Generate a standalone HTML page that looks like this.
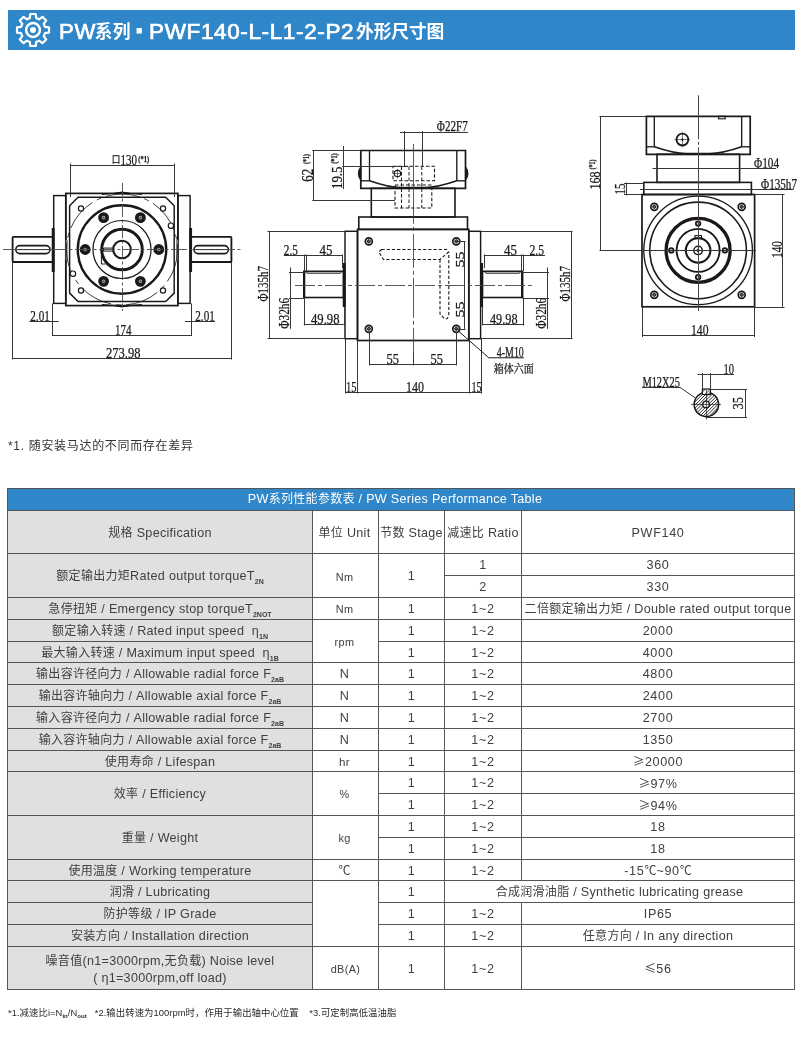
<!DOCTYPE html>
<html lang="zh-CN"><head><meta charset="utf-8"><title>PW系列 PWF140-L-L1-2-P2 外形尺寸图</title>
<style>
*{margin:0;padding:0;box-sizing:border-box}
html,body{width:800px;height:1050px;background:#fff;overflow:hidden}
body{font-family:"Liberation Sans","Noto Sans CJK SC",sans-serif;color:#3a3a3a}
#page{position:relative;width:800px;height:1050px;background:#fff;overflow:hidden}
.hdr{position:absolute;left:7.5px;top:9.6px;width:787.5px;height:40.6px;background:#2f86c8}
.hdr h1{position:absolute;left:0;top:0;width:100%;height:100%;font-weight:normal;font-size:21.4px;color:#fff}
.hdr h1 span.l{-webkit-text-stroke:0.7px #fff}
.hdr h1 span.d{font-size:30px;font-weight:bold;top:7.9px;-webkit-text-stroke:1px #fff}
.hdr h1 span.c{font-weight:bold}
.hdr h1 span{position:absolute;top:8.6px;line-height:26px;white-space:nowrap;transform-origin:0 50%;display:block}
.hdr h1 span.c{font-size:17.8px;top:9.3px}
svg.draw{position:absolute;left:0;top:0;width:800px;height:1050px;will-change:transform}
.tbl span,.note,.foot,.hdr h1{will-change:transform}
.note{position:absolute;left:7.6px;top:437.8px;font-size:12px;line-height:16px;color:#333;white-space:nowrap;letter-spacing:.68px}
.foot{position:absolute;left:7.5px;top:1006px;font-size:9.4px;line-height:14px;color:#2a2a2a;white-space:nowrap;letter-spacing:.05px}
.foot sub{font-size:6px;font-weight:bold;vertical-align:-2px;line-height:0}
.tbl{position:absolute;border-collapse:separate;border-spacing:0;table-layout:fixed;width:788px;border-top:1px solid #555;border-left:1px solid #555;font-size:12.6px;color:#404040}
.tbl th,.tbl td{padding:0;border-right:1px solid #555;border-bottom:1px solid #555;font-weight:normal;text-align:center;vertical-align:middle;white-space:nowrap;line-height:20.5px;letter-spacing:.28px;overflow:visible}
.tbl span{position:relative;display:block;margin:-3px 0}
.tbl i{font-style:normal;font-size:12px;letter-spacing:.3px}
.tbl b{font-weight:normal;font-family:"Noto Sans CJK SC",sans-serif;font-size:12px;letter-spacing:0}
.tbl sub{font-size:7px;font-weight:bold;vertical-align:-4px;line-height:0;letter-spacing:0}
.tbl .l{background:#e0e0e0}
.tbl .n{letter-spacing:.65px}
.tbl .u{font-size:10.9px;letter-spacing:.35px}
.tbl .u2{font-size:11.6px;letter-spacing:.35px}
.tbl .two{line-height:17px}
.tbl .t{background:#2f86c8;color:#fff}
</style></head>
<body><div id="page">
<div class="hdr"><svg width="40" height="40" viewBox="0 0 40 40" style="position:absolute;left:5.6px;top:0.7px" aria-hidden="true"><path d="M16.80 8.12L17.30 4.00 L22.70 4.00 L23.20 8.12A12.30 12.30 0 0 1 26.14 9.34L29.40 6.78 L33.22 10.60 L30.66 13.86A12.30 12.30 0 0 1 31.88 16.80L36.00 17.30 L36.00 22.70 L31.88 23.20A12.30 12.30 0 0 1 30.66 26.14L33.22 29.40 L29.40 33.22 L26.14 30.66A12.30 12.30 0 0 1 23.20 31.88L22.70 36.00 L17.30 36.00 L16.80 31.88A12.30 12.30 0 0 1 13.86 30.66L10.60 33.22 L6.78 29.40 L9.34 26.14A12.30 12.30 0 0 1 8.12 23.20L4.00 22.70 L4.00 17.30 L8.12 16.80A12.30 12.30 0 0 1 9.34 13.86L6.78 10.60 L10.60 6.78 L13.86 9.34A12.30 12.30 0 0 1 16.80 8.12 Z" fill="none" stroke="#fff" stroke-width="2.2" stroke-linejoin="round"/><circle cx="20" cy="20" r="6.9" fill="none" stroke="#fff" stroke-width="2.5"/><circle cx="20" cy="20" r="3" fill="#fff"/></svg><h1><span class="l" style="left:50.80px;transform:scaleX(1.035);letter-spacing:0.60px;">PW</span><span class="c" style="left:86.80px;letter-spacing:0.10px;">系列</span><span class="d" style="left:126.90px;">·</span><span class="l" style="left:141.10px;transform:scaleX(1.052);letter-spacing:0.60px;">PWF140-L-L1-2-P2</span><span class="c" style="left:348.00px;letter-spacing:-0.15px;">外形尺寸图</span></h1></div>
<svg class="draw" viewBox="0 0 800 1050" fill="none" stroke="#1c1818" stroke-linecap="butt" font-family="'Liberation Serif','Noto Serif CJK SC',serif">
<g class="lines">
<rect x="65.80" y="193.40" width="112.10" height="112.20" stroke-width="1.71"/>
<rect x="53.70" y="195.60" width="12.10" height="107.80" stroke-width="1.46"/>
<rect x="177.90" y="195.60" width="12.20" height="107.80" stroke-width="1.46"/>
<line x1="53.20" y1="228.00" x2="53.20" y2="272.00" stroke-width="2.93"/>
<line x1="190.60" y1="228.00" x2="190.60" y2="272.00" stroke-width="2.93"/>
<line x1="66.60" y1="240.00" x2="66.60" y2="260.00" stroke-width="1.95" stroke="#777"/>
<line x1="177.10" y1="240.00" x2="177.10" y2="260.00" stroke-width="1.95" stroke="#777"/>
<rect x="12.60" y="236.80" width="40.40" height="25.20" stroke-width="1.83" rx="0.80"/>
<rect x="191.00" y="236.80" width="40.40" height="25.20" stroke-width="1.83" rx="0.80"/>
<rect x="15.80" y="245.60" width="34.20" height="8.00" stroke-width="1.59" rx="4.00"/>
<rect x="194.00" y="245.60" width="34.40" height="8.00" stroke-width="1.59" rx="4.00"/>
<line x1="17.00" y1="249.60" x2="49.00" y2="249.60" stroke-width="0.98"/>
<line x1="195.00" y1="249.60" x2="227.40" y2="249.60" stroke-width="0.98"/>
<path d="M78.1 197.3L165.7 197.3L174.2 205.8L174.2 293.1L165.7 301.6L78.1 301.6L69.6 293.1L69.6 205.8Z" stroke-width="1.46"/>
<circle cx="122.00" cy="249.50" r="55.50" stroke-width="0.85" stroke-dasharray="34 5 5 5"/>
<circle cx="122.00" cy="249.50" r="44.20" stroke-width="2.44"/>
<circle cx="122.00" cy="249.50" r="29.00" stroke-width="1.22"/>
<circle cx="122.00" cy="249.50" r="20.30" stroke-width="2.93"/>
<circle cx="122.00" cy="249.50" r="8.80" stroke-width="2.07"/>
<path d="M113.4 248.1H103.5V251.1H113.6" stroke-width="1.00"/>
<path d="M101.4 255.5V264.0H105.5" stroke-width="1.00"/>
<circle cx="158.80" cy="249.50" r="3.60" stroke-width="3.66" fill="#bbb"/>
<circle cx="158.80" cy="249.50" r="0.90" stroke-width="0.61" fill="#555" stroke="#555"/>
<circle cx="140.40" cy="281.37" r="3.60" stroke-width="3.66" fill="#bbb"/>
<circle cx="140.40" cy="281.37" r="0.90" stroke-width="0.61" fill="#555" stroke="#555"/>
<circle cx="103.60" cy="281.37" r="3.60" stroke-width="3.66" fill="#bbb"/>
<circle cx="103.60" cy="281.37" r="0.90" stroke-width="0.61" fill="#555" stroke="#555"/>
<circle cx="85.20" cy="249.50" r="3.60" stroke-width="3.66" fill="#bbb"/>
<circle cx="85.20" cy="249.50" r="0.90" stroke-width="0.61" fill="#555" stroke="#555"/>
<circle cx="103.60" cy="217.63" r="3.60" stroke-width="3.66" fill="#bbb"/>
<circle cx="103.60" cy="217.63" r="0.90" stroke-width="0.61" fill="#555" stroke="#555"/>
<circle cx="140.40" cy="217.63" r="3.60" stroke-width="3.66" fill="#bbb"/>
<circle cx="140.40" cy="217.63" r="0.90" stroke-width="0.61" fill="#555" stroke="#555"/>
<circle cx="81.00" cy="208.50" r="2.60" stroke-width="1.22" fill="#fff"/>
<circle cx="81.00" cy="290.50" r="2.60" stroke-width="1.22" fill="#fff"/>
<circle cx="163.00" cy="208.50" r="2.60" stroke-width="1.22" fill="#fff"/>
<circle cx="163.00" cy="290.50" r="2.60" stroke-width="1.22" fill="#fff"/>
<rect x="168.30" y="223.00" width="5.20" height="5.30" stroke-width="1.22" rx="2.40" fill="#fff"/>
<rect x="70.30" y="271.00" width="5.30" height="5.40" stroke-width="1.22" rx="2.40" fill="#fff"/>
<path d="M114.0 193.4Q122.0 190.6 130.0 193.4Z" stroke-width="1.00" fill="#1c1818"/>
<path d="M114.0 305.6Q122.0 308.4 130.0 305.6Z" stroke-width="1.00" fill="#1c1818"/>
<path d="M102.0 194.4Q122.0 192.2 142.0 194.4" stroke-width="1.10"/>
<path d="M102.0 304.6Q122.0 306.8 142.0 304.6" stroke-width="1.10"/>
<line x1="3.00" y1="249.50" x2="241.00" y2="249.50" stroke-width="0.90" stroke-dasharray="16 2.5 3 2.5" stroke="#4a4646"/>
<line x1="122.50" y1="183.00" x2="122.50" y2="311.00" stroke-width="0.90" stroke-dasharray="13 2.5 3 2.5" stroke="#4a4646"/>
<line x1="70.00" y1="165.50" x2="174.40" y2="165.50" stroke-width="1.00" stroke="#3a3636"/>
<line x1="70.50" y1="163.50" x2="70.50" y2="197.00" stroke-width="1.00" stroke="#3a3636"/>
<line x1="174.50" y1="163.50" x2="174.50" y2="197.00" stroke-width="1.00" stroke="#3a3636"/>
<line x1="29.40" y1="321.50" x2="58.60" y2="321.50" stroke-width="1.00" stroke="#3a3636"/>
<line x1="184.80" y1="321.50" x2="215.00" y2="321.50" stroke-width="1.00" stroke="#3a3636"/>
<line x1="52.50" y1="303.50" x2="52.50" y2="336.00" stroke-width="1.00" stroke="#3a3636"/>
<line x1="191.50" y1="303.50" x2="191.50" y2="336.00" stroke-width="1.00" stroke="#3a3636"/>
<line x1="52.50" y1="335.50" x2="191.40" y2="335.50" stroke-width="1.00" stroke="#3a3636"/>
<line x1="12.50" y1="262.00" x2="12.50" y2="359.50" stroke-width="1.00" stroke="#3a3636"/>
<line x1="231.50" y1="262.00" x2="231.50" y2="359.50" stroke-width="1.00" stroke="#3a3636"/>
<line x1="12.60" y1="358.50" x2="231.50" y2="358.50" stroke-width="1.00" stroke="#3a3636"/>
<rect x="357.50" y="229.40" width="111.30" height="111.10" stroke-width="1.71"/>
<rect x="345.00" y="231.30" width="12.50" height="107.40" stroke-width="1.46"/>
<rect x="468.80" y="231.30" width="11.80" height="107.40" stroke-width="1.46"/>
<rect x="358.80" y="217.00" width="108.70" height="12.40" stroke-width="1.59"/>
<rect x="371.30" y="188.30" width="83.70" height="28.70" stroke-width="1.59"/>
<path d="M360.8 150.5H465.5V188.3H360.8Z" stroke-width="1.71"/>
<line x1="369.50" y1="150.50" x2="369.50" y2="181.00" stroke-width="1.34"/>
<line x1="456.80" y1="150.50" x2="456.80" y2="181.00" stroke-width="1.34"/>
<line x1="360.80" y1="180.80" x2="369.50" y2="180.80" stroke-width="1.34"/>
<line x1="456.80" y1="180.80" x2="465.50" y2="180.80" stroke-width="1.34"/>
<path d="M369.5 180.8C381 184.8 392 187.6 401 187.6H425C434 187.6 445 184.8 456.8 180.8" stroke-width="1.59"/>
<path d="M360.8 166.5Q355.8 173.5 360.8 180.5Z" stroke-width="1.00" fill="#1c1818"/>
<path d="M465.5 166.5Q470.5 173.5 465.5 180.5Z" stroke-width="1.00" fill="#1c1818"/>
<rect x="303.80" y="271.30" width="39.70" height="26.20" stroke-width="1.59"/>
<rect x="482.50" y="271.30" width="40.00" height="26.20" stroke-width="1.59"/>
<path d="M305.5 271.3L306.8 273.2H340.5L341.8 271.3" stroke-width="0.98"/>
<path d="M484.5 271.3L485.8 273.2H519.5L520.8 271.3" stroke-width="0.98"/>
<line x1="304.20" y1="271.30" x2="304.20" y2="297.50" stroke-width="2.20"/>
<line x1="522.10" y1="271.30" x2="522.10" y2="297.50" stroke-width="2.20"/>
<line x1="344.20" y1="263.00" x2="344.20" y2="307.00" stroke-width="2.93"/>
<line x1="481.60" y1="263.00" x2="481.60" y2="307.00" stroke-width="2.93"/>
<circle cx="368.80" cy="241.30" r="3.50" stroke-width="1.71" fill="#fff"/>
<circle cx="368.80" cy="241.30" r="1.50" stroke-width="0.98" fill="#bbb"/>
<path d="M366.6 241.3h4.4M368.8 239.1v4.4" stroke-width="0.61"/>
<circle cx="368.80" cy="328.80" r="3.50" stroke-width="1.71" fill="#fff"/>
<circle cx="368.80" cy="328.80" r="1.50" stroke-width="0.98" fill="#bbb"/>
<path d="M366.6 328.8h4.4M368.8 326.6v4.4" stroke-width="0.61"/>
<circle cx="456.30" cy="241.30" r="3.50" stroke-width="1.71" fill="#fff"/>
<circle cx="456.30" cy="241.30" r="1.50" stroke-width="0.98" fill="#bbb"/>
<path d="M454.1 241.3h4.4M456.3 239.1v4.4" stroke-width="0.61"/>
<circle cx="456.30" cy="328.80" r="3.50" stroke-width="1.71" fill="#fff"/>
<circle cx="456.30" cy="328.80" r="1.50" stroke-width="0.98" fill="#bbb"/>
<path d="M454.1 328.8h4.4M456.3 326.6v4.4" stroke-width="0.61"/>
<rect x="393.00" y="166.30" width="41.50" height="14.50" stroke-width="1.10" stroke-dasharray="3.5 2"/>
<rect x="395.00" y="185.00" width="36.80" height="23.00" stroke-width="1.10" stroke-dasharray="3.5 2"/>
<path d="M401.5 166.5V208 M409 166.5V208 M421.8 166.5V208" stroke-width="0.98" stroke-dasharray="3.5 2"/>
<circle cx="397.50" cy="173.60" r="3.20" stroke-width="1.10"/>
<path d="M393 173.6h9M397.5 169v9.4" stroke-width="0.61"/>
<path d="M381.5 249.5H446.5L448.5 252L440 259.5H383.5L378.8 252Z" stroke-width="1.10" stroke-dasharray="3.2 2"/>
<path d="M440 259.5V314L444.5 318.8H447L448.8 316V252" stroke-width="1.10" stroke-dasharray="3.2 2"/>
<line x1="413.50" y1="143.80" x2="413.50" y2="352.00" stroke-width="0.90" stroke-dasharray="80 3 4 3 34 3 4 3 40 3 4 3" stroke="#4a4646"/>
<line x1="295.00" y1="285.50" x2="532.00" y2="285.50" stroke-width="0.90" stroke-dasharray="20 3 4 3" stroke="#4a4646"/>
<line x1="400.00" y1="132.50" x2="468.00" y2="132.50" stroke-width="1.00" stroke="#3a3636"/>
<line x1="404.50" y1="131.00" x2="404.50" y2="166.00" stroke-width="1.00" stroke="#3a3636"/>
<line x1="422.50" y1="131.00" x2="422.50" y2="166.00" stroke-width="1.00" stroke="#3a3636"/>
<line x1="313.50" y1="150.50" x2="313.50" y2="200.00" stroke-width="1.00" stroke="#3a3636"/>
<line x1="312.30" y1="150.50" x2="360.80" y2="150.50" stroke-width="1.00" stroke="#3a3636"/>
<line x1="312.30" y1="200.50" x2="395.00" y2="200.50" stroke-width="1.00" stroke="#3a3636"/>
<line x1="343.50" y1="146.00" x2="343.50" y2="189.00" stroke-width="1.00" stroke="#3a3636"/>
<line x1="342.00" y1="166.50" x2="408.00" y2="166.50" stroke-width="1.00" stroke="#3a3636"/>
<line x1="267.50" y1="231.50" x2="345.00" y2="231.50" stroke-width="1.00" stroke="#3a3636"/>
<line x1="267.50" y1="338.50" x2="345.00" y2="338.50" stroke-width="1.00" stroke="#3a3636"/>
<line x1="269.50" y1="231.30" x2="269.50" y2="338.70" stroke-width="1.00" stroke="#3a3636"/>
<line x1="480.60" y1="231.50" x2="572.50" y2="231.50" stroke-width="1.00" stroke="#3a3636"/>
<line x1="480.60" y1="338.50" x2="572.50" y2="338.50" stroke-width="1.00" stroke="#3a3636"/>
<line x1="571.50" y1="231.30" x2="571.50" y2="338.70" stroke-width="1.00" stroke="#3a3636"/>
<line x1="283.80" y1="255.50" x2="342.00" y2="255.50" stroke-width="1.00" stroke="#3a3636"/>
<line x1="306.50" y1="254.50" x2="306.50" y2="271.00" stroke-width="1.00" stroke="#3a3636"/>
<line x1="304.50" y1="254.50" x2="304.50" y2="271.00" stroke-width="1.00" stroke="#3a3636"/>
<line x1="342.50" y1="254.50" x2="342.50" y2="268.00" stroke-width="1.00" stroke="#3a3636"/>
<line x1="483.80" y1="255.50" x2="545.00" y2="255.50" stroke-width="1.00" stroke="#3a3636"/>
<line x1="484.50" y1="254.50" x2="484.50" y2="268.00" stroke-width="1.00" stroke="#3a3636"/>
<line x1="521.50" y1="254.50" x2="521.50" y2="271.00" stroke-width="1.00" stroke="#3a3636"/>
<line x1="523.50" y1="254.50" x2="523.50" y2="271.00" stroke-width="1.00" stroke="#3a3636"/>
<line x1="290.50" y1="267.50" x2="290.50" y2="328.80" stroke-width="1.00" stroke="#3a3636"/>
<line x1="289.00" y1="272.50" x2="303.80" y2="272.50" stroke-width="1.00" stroke="#3a3636"/>
<line x1="289.00" y1="298.50" x2="303.80" y2="298.50" stroke-width="1.00" stroke="#3a3636"/>
<line x1="547.50" y1="267.50" x2="547.50" y2="328.80" stroke-width="1.00" stroke="#3a3636"/>
<line x1="522.50" y1="272.50" x2="549.00" y2="272.50" stroke-width="1.00" stroke="#3a3636"/>
<line x1="522.50" y1="298.50" x2="549.00" y2="298.50" stroke-width="1.00" stroke="#3a3636"/>
<line x1="303.80" y1="324.50" x2="343.80" y2="324.50" stroke-width="1.00" stroke="#3a3636"/>
<line x1="304.50" y1="297.50" x2="304.50" y2="325.50" stroke-width="1.00" stroke="#3a3636"/>
<line x1="344.50" y1="307.00" x2="344.50" y2="325.50" stroke-width="1.00" stroke="#3a3636"/>
<line x1="482.50" y1="324.50" x2="523.00" y2="324.50" stroke-width="1.00" stroke="#3a3636"/>
<line x1="482.50" y1="307.00" x2="482.50" y2="325.50" stroke-width="1.00" stroke="#3a3636"/>
<line x1="523.50" y1="297.50" x2="523.50" y2="325.50" stroke-width="1.00" stroke="#3a3636"/>
<line x1="464.50" y1="241.30" x2="464.50" y2="328.80" stroke-width="1.00" stroke="#3a3636"/>
<line x1="456.30" y1="241.50" x2="465.50" y2="241.50" stroke-width="1.00" stroke="#3a3636"/>
<line x1="456.30" y1="329.50" x2="465.50" y2="329.50" stroke-width="1.00" stroke="#3a3636"/>
<line x1="369.30" y1="364.50" x2="456.30" y2="364.50" stroke-width="1.00" stroke="#3a3636"/>
<line x1="369.50" y1="332.00" x2="369.50" y2="365.50" stroke-width="1.00" stroke="#3a3636"/>
<line x1="456.50" y1="332.00" x2="456.50" y2="365.50" stroke-width="1.00" stroke="#3a3636"/>
<line x1="413.50" y1="352.00" x2="413.50" y2="365.50" stroke-width="1.00" stroke="#3a3636"/>
<line x1="345.00" y1="392.50" x2="481.30" y2="392.50" stroke-width="1.00" stroke="#3a3636"/>
<line x1="345.50" y1="338.70" x2="345.50" y2="393.50" stroke-width="1.00" stroke="#3a3636"/>
<line x1="357.50" y1="340.50" x2="357.50" y2="393.50" stroke-width="1.00" stroke="#3a3636"/>
<line x1="469.50" y1="340.50" x2="469.50" y2="393.50" stroke-width="1.00" stroke="#3a3636"/>
<line x1="481.50" y1="338.70" x2="481.50" y2="393.50" stroke-width="1.00" stroke="#3a3636"/>
<path d="M457.8 330.5L488.8 357.8H524" stroke-width="1.00"/>
<path d="M646.4 116.3H750.2V154.3H646.4Z" stroke-width="1.71"/>
<line x1="654.30" y1="116.30" x2="654.30" y2="147.00" stroke-width="1.34"/>
<line x1="741.70" y1="116.30" x2="741.70" y2="147.00" stroke-width="1.34"/>
<line x1="646.40" y1="146.80" x2="654.30" y2="146.80" stroke-width="1.34"/>
<line x1="741.70" y1="146.80" x2="750.20" y2="146.80" stroke-width="1.34"/>
<path d="M654.3 146.8C666 150.8 677 153.6 686 153.6H710C719 153.6 730 150.8 741.7 146.8" stroke-width="1.59"/>
<rect x="718.60" y="116.30" width="6.60" height="2.50" stroke-width="1.10"/>
<circle cx="682.40" cy="139.60" r="5.90" stroke-width="1.83"/>
<path d="M674.6 139.6h15.6M682.4 131.8v15.6" stroke-width="0.61"/>
<path d="M680.6 139.6h3.6M682.4 137.8v3.6" stroke-width="0.85"/>
<rect x="657.00" y="154.30" width="82.60" height="28.10" stroke-width="1.59"/>
<rect x="643.80" y="182.40" width="107.60" height="12.10" stroke-width="1.59"/>
<rect x="642.00" y="194.50" width="112.60" height="112.30" stroke-width="1.71"/>
<circle cx="698.10" cy="250.40" r="54.30" stroke-width="1.34"/>
<circle cx="698.10" cy="250.40" r="48.30" stroke-width="1.59"/>
<circle cx="698.10" cy="250.40" r="32.00" stroke-width="3.29"/>
<circle cx="698.10" cy="250.40" r="21.50" stroke-width="1.83"/>
<circle cx="698.10" cy="250.40" r="12.30" stroke-width="2.07"/>
<circle cx="698.10" cy="250.40" r="4.20" stroke-width="1.46"/>
<circle cx="698.10" cy="250.40" r="1.30" stroke-width="0.98"/>
<rect x="695.00" y="235.60" width="6.50" height="2.80" stroke-width="1.10"/>
<circle cx="724.90" cy="250.40" r="2.30" stroke-width="1.71" fill="#ccc"/>
<circle cx="671.30" cy="250.40" r="2.30" stroke-width="1.71" fill="#ccc"/>
<circle cx="698.10" cy="277.20" r="2.30" stroke-width="1.71" fill="#ccc"/>
<circle cx="698.10" cy="223.60" r="2.30" stroke-width="1.71" fill="#ccc"/>
<circle cx="654.30" cy="206.80" r="3.50" stroke-width="1.71" fill="#fff"/>
<circle cx="654.30" cy="206.80" r="1.50" stroke-width="0.98" fill="#bbb"/>
<path d="M652.1 206.8h4.4M654.3 204.6v4.4" stroke-width="0.61"/>
<circle cx="654.30" cy="294.80" r="3.50" stroke-width="1.71" fill="#fff"/>
<circle cx="654.30" cy="294.80" r="1.50" stroke-width="0.98" fill="#bbb"/>
<path d="M652.1 294.8h4.4M654.3 292.6v4.4" stroke-width="0.61"/>
<circle cx="741.70" cy="206.80" r="3.50" stroke-width="1.71" fill="#fff"/>
<circle cx="741.70" cy="206.80" r="1.50" stroke-width="0.98" fill="#bbb"/>
<path d="M739.5 206.8h4.4M741.7 204.6v4.4" stroke-width="0.61"/>
<circle cx="741.70" cy="294.80" r="3.50" stroke-width="1.71" fill="#fff"/>
<circle cx="741.70" cy="294.80" r="1.50" stroke-width="0.98" fill="#bbb"/>
<path d="M739.5 294.8h4.4M741.7 292.6v4.4" stroke-width="0.61"/>
<line x1="698.50" y1="95.30" x2="698.50" y2="311.00" stroke-width="1.00" stroke-dasharray="44 2.5 3 2.5 200 0" stroke="#4a4646"/>
<line x1="600.50" y1="116.30" x2="600.50" y2="250.40" stroke-width="1.00" stroke="#3a3636"/>
<line x1="599.50" y1="116.50" x2="646.00" y2="116.50" stroke-width="1.00" stroke="#3a3636"/>
<line x1="599.50" y1="250.50" x2="756.00" y2="250.50" stroke-width="1.00" stroke="#3a3636"/>
<line x1="626.50" y1="182.40" x2="626.50" y2="195.50" stroke-width="1.00" stroke="#3a3636"/>
<line x1="624.00" y1="183.50" x2="644.00" y2="183.50" stroke-width="1.00" stroke="#3a3636"/>
<line x1="624.00" y1="194.50" x2="642.00" y2="194.50" stroke-width="1.00" stroke="#3a3636"/>
<line x1="652.50" y1="168.50" x2="776.00" y2="168.50" stroke-width="1.00" stroke="#3a3636"/>
<line x1="640.00" y1="189.50" x2="793.60" y2="189.50" stroke-width="1.00" stroke="#3a3636"/>
<line x1="782.50" y1="194.50" x2="782.50" y2="306.80" stroke-width="1.00" stroke="#3a3636"/>
<line x1="754.60" y1="194.50" x2="784.50" y2="194.50" stroke-width="1.00" stroke="#3a3636"/>
<line x1="754.60" y1="307.50" x2="784.50" y2="307.50" stroke-width="1.00" stroke="#3a3636"/>
<line x1="642.50" y1="306.80" x2="642.50" y2="337.00" stroke-width="1.00" stroke="#3a3636"/>
<line x1="754.50" y1="306.80" x2="754.50" y2="337.00" stroke-width="1.00" stroke="#3a3636"/>
<line x1="642.00" y1="335.50" x2="754.60" y2="335.50" stroke-width="1.00" stroke="#3a3636"/>
<clipPath id="sc"><circle cx="706.4" cy="404.4" r="12.2"/></clipPath>
<path d="M678.4 418.4l30 -30M681.6 418.4l30 -30M684.8 418.4l30 -30M688.0 418.4l30 -30M691.2 418.4l30 -30M694.4 418.4l30 -30M697.6 418.4l30 -30M700.8 418.4l30 -30M704.0 418.4l30 -30M707.2 418.4l30 -30M710.4 418.4l30 -30M713.6 418.4l30 -30M716.8 418.4l30 -30M720.0 418.4l30 -30" stroke-width="0.9" clip-path="url(#sc)"/>
<circle cx="706.40" cy="404.40" r="12.20" stroke-width="1.59"/>
<rect x="702.40" y="389.00" width="8.00" height="5.50" stroke-width="1.22" fill="#fff"/>
<path d="M702.4 392l3-3M705 394.5l5-5M708 394.5l2.4-2.4" stroke-width="0.85"/>
<circle cx="706.10" cy="404.40" r="3.30" stroke-width="1.34" fill="#fff"/>
<line x1="691.00" y1="404.40" x2="721.00" y2="404.40" stroke-width="0.73"/>
<line x1="706.40" y1="390.00" x2="706.40" y2="419.50" stroke-width="0.73"/>
<line x1="697.60" y1="374.50" x2="734.00" y2="374.50" stroke-width="1.00" stroke="#3a3636"/>
<line x1="702.50" y1="373.00" x2="702.50" y2="389.00" stroke-width="1.00" stroke="#3a3636"/>
<line x1="710.50" y1="373.00" x2="710.50" y2="389.00" stroke-width="1.00" stroke="#3a3636"/>
<line x1="745.50" y1="389.00" x2="745.50" y2="417.00" stroke-width="1.00" stroke="#3a3636"/>
<line x1="710.40" y1="389.50" x2="747.00" y2="389.50" stroke-width="1.00" stroke="#3a3636"/>
<line x1="706.00" y1="417.50" x2="747.00" y2="417.50" stroke-width="1.00" stroke="#3a3636"/>
<line x1="642.00" y1="387.50" x2="680.00" y2="387.50" stroke-width="1.00" stroke="#3a3636"/>
<line x1="680.00" y1="387.40" x2="695.50" y2="398.00" stroke-width="1.00" stroke="#3a3636"/>
</g>
<g class="dims" fill="#1c1818" stroke="#1c1818" stroke-width="0.25">
<text x="111.80" y="163.20" font-size="10.0" textLength="8.60" lengthAdjust="spacingAndGlyphs" font-family='Noto Sans CJK SC'>口</text>
<text x="120.60" y="164.80" font-size="14.6" textLength="16.50" lengthAdjust="spacingAndGlyphs">130</text>
<text x="138.30" y="162.30" font-size="8.5" textLength="10.80" lengthAdjust="spacingAndGlyphs" font-weight="bold">(*1)</text>
<text x="30.30" y="321.00" font-size="14.6" textLength="19.50" lengthAdjust="spacingAndGlyphs">2.01</text>
<text x="195.30" y="321.00" font-size="14.6" textLength="19.50" lengthAdjust="spacingAndGlyphs">2.01</text>
<text x="115.00" y="334.60" font-size="14.6" textLength="16.50" lengthAdjust="spacingAndGlyphs">174</text>
<text x="106.00" y="358.00" font-size="14.6" textLength="34.50" lengthAdjust="spacingAndGlyphs">273.98</text>
<text x="436.80" y="131.40" font-size="14.6" textLength="31.00" lengthAdjust="spacingAndGlyphs">Φ22F7</text>
<text x="312.60" y="181.80" font-size="16.0" textLength="13.00" lengthAdjust="spacingAndGlyphs" transform="rotate(-90 312.60 181.80)">62</text>
<text x="308.50" y="164.00" font-size="8.5" textLength="10.00" lengthAdjust="spacingAndGlyphs" transform="rotate(-90 308.50 164.00)" font-weight="bold">(*1)</text>
<text x="342.00" y="189.00" font-size="14.6" textLength="22.50" lengthAdjust="spacingAndGlyphs" transform="rotate(-90 342.00 189.00)">19.5</text>
<text x="337.50" y="163.80" font-size="8.5" textLength="10.50" lengthAdjust="spacingAndGlyphs" transform="rotate(-90 337.50 163.80)" font-weight="bold">(*1)</text>
<text x="268.00" y="301.50" font-size="14.6" textLength="35.50" lengthAdjust="spacingAndGlyphs" transform="rotate(-90 268.00 301.50)">Φ135h7</text>
<text x="570.00" y="301.50" font-size="14.6" textLength="35.50" lengthAdjust="spacingAndGlyphs" transform="rotate(-90 570.00 301.50)">Φ135h7</text>
<text x="283.80" y="255.00" font-size="14.6" textLength="14.00" lengthAdjust="spacingAndGlyphs">2.5</text>
<text x="319.50" y="255.00" font-size="14.6" textLength="13.00" lengthAdjust="spacingAndGlyphs">45</text>
<text x="504.00" y="255.00" font-size="14.6" textLength="13.00" lengthAdjust="spacingAndGlyphs">45</text>
<text x="529.50" y="255.00" font-size="14.6" textLength="14.50" lengthAdjust="spacingAndGlyphs">2.5</text>
<text x="289.30" y="328.80" font-size="14.6" textLength="31.00" lengthAdjust="spacingAndGlyphs" transform="rotate(-90 289.30 328.80)">Φ32h6</text>
<text x="546.30" y="328.80" font-size="14.6" textLength="31.00" lengthAdjust="spacingAndGlyphs" transform="rotate(-90 546.30 328.80)">Φ32h6</text>
<text x="311.00" y="324.10" font-size="14.6" textLength="28.50" lengthAdjust="spacingAndGlyphs">49.98</text>
<text x="490.00" y="324.10" font-size="14.6" textLength="27.50" lengthAdjust="spacingAndGlyphs">49.98</text>
<text x="464.00" y="267.60" font-size="13.4" textLength="16.00" lengthAdjust="spacingAndGlyphs" transform="rotate(-90 464.00 267.60)">55</text>
<text x="464.00" y="317.60" font-size="13.4" textLength="16.00" lengthAdjust="spacingAndGlyphs" transform="rotate(-90 464.00 317.60)">55</text>
<text x="386.50" y="364.10" font-size="14.6" textLength="12.50" lengthAdjust="spacingAndGlyphs">55</text>
<text x="430.50" y="364.10" font-size="14.6" textLength="12.50" lengthAdjust="spacingAndGlyphs">55</text>
<text x="346.00" y="392.10" font-size="14.6" textLength="10.50" lengthAdjust="spacingAndGlyphs">15</text>
<text x="406.00" y="392.10" font-size="14.6" textLength="18.00" lengthAdjust="spacingAndGlyphs">140</text>
<text x="471.50" y="392.10" font-size="14.6" textLength="10.00" lengthAdjust="spacingAndGlyphs">15</text>
<text x="496.80" y="357.40" font-size="14.6" textLength="27.00" lengthAdjust="spacingAndGlyphs">4-M10</text>
<text x="493.80" y="373.00" font-size="11.0" textLength="40.00" lengthAdjust="spacingAndGlyphs">箱体六面</text>
<text x="599.80" y="189.50" font-size="14.6" textLength="18.00" lengthAdjust="spacingAndGlyphs" transform="rotate(-90 599.80 189.50)">168</text>
<text x="594.50" y="169.50" font-size="8.5" textLength="10.00" lengthAdjust="spacingAndGlyphs" transform="rotate(-90 594.50 169.50)" font-weight="bold">(*1)</text>
<text x="625.40" y="194.50" font-size="14.6" textLength="11.00" lengthAdjust="spacingAndGlyphs" transform="rotate(-90 625.40 194.50)">15</text>
<text x="754.00" y="167.80" font-size="14.6" textLength="25.00" lengthAdjust="spacingAndGlyphs">Φ104</text>
<text x="761.00" y="188.80" font-size="14.6" textLength="36.00" lengthAdjust="spacingAndGlyphs">Φ135h7</text>
<text x="781.80" y="258.00" font-size="14.6" textLength="17.00" lengthAdjust="spacingAndGlyphs" transform="rotate(-90 781.80 258.00)">140</text>
<text x="691.00" y="334.60" font-size="14.6" textLength="17.50" lengthAdjust="spacingAndGlyphs">140</text>
<text x="723.40" y="373.60" font-size="14.6" textLength="10.50" lengthAdjust="spacingAndGlyphs">10</text>
<text x="742.60" y="409.50" font-size="14.6" textLength="12.50" lengthAdjust="spacingAndGlyphs" transform="rotate(-90 742.60 409.50)">35</text>
<text x="642.40" y="386.80" font-size="14.6" textLength="37.50" lengthAdjust="spacingAndGlyphs">M12X25</text>
</g>
</svg>
<div class="note">*1. 随安装马达的不同而存在差异</div>
<table class="tbl" style="left:7px;top:488px">
<colgroup><col style="width:305px"><col style="width:66px"><col style="width:66px"><col style="width:77px"><col style="width:273px"></colgroup>
<thead>
<tr style="height:22px"><th class="t" colspan="5"><span style="top:0.2px;left:-6.5px;">PW<i>系列性能参数表</i> / PW Series Performance Table</span></th></tr>
<tr style="height:43px"><th class="l" scope="col"><span style="top:1.4px;"><i>规格</i> Specification</span></th><th scope="col"><span style="top:1.4px;left:-1.0px;"><i>单位</i> Unit</span></th><th scope="col"><span style="top:1.4px;"><i>节数</i> Stage</span></th><th scope="col"><span style="top:1.4px;"><i>减速比</i> Ratio</span></th><th class="n" scope="col"><span style="top:1.4px;">PWF140</span></th></tr>
</thead>
<tbody>
<tr style="height:22px"><th class="l" rowspan="2" scope="row"><span style="top:1.0px;"><i>额定输出力矩</i>Rated output torqueT<sub>2N</sub></span></th><td class="u" rowspan="2"><span style="top:1.8px;left:-1.5px;">Nm</span></td><td class="n" rowspan="2"><span style="top:1.0px;">1</span></td><td class="n"><span style="top:1.0px;">1</span></td><td class="n"><span style="top:1.0px;">360</span></td></tr>
<tr style="height:22px"><td class="n"><span style="top:1.0px;">2</span></td><td class="n"><span style="top:1.0px;">330</span></td></tr>
<tr style="height:22px"><th class="l" scope="row"><span style="top:1.0px;"><i>急停扭矩</i> / Emergency stop torqueT<sub>2NOT</sub></span></th><td class="u"><span style="top:1.2px;left:-1.2px;">Nm</span></td><td class="n"><span style="top:1.0px;">1</span></td><td class="n"><span style="top:1.0px;">1~2</span></td><td><span style="top:1.0px;"><i>二倍额定输出力矩</i> / Double rated output torque</span></td></tr>
<tr style="height:22px"><th class="l" scope="row"><span style="top:1.0px;"><i>额定输入转速</i> / Rated input speed &nbsp;η<sub>1N</sub></span></th><td class="u" rowspan="2"><span style="top:1.2px;left:-1.2px;">rpm</span></td><td class="n"><span style="top:1.0px;">1</span></td><td class="n"><span style="top:1.0px;">1~2</span></td><td class="n"><span style="top:1.0px;">2000</span></td></tr>
<tr style="height:21px"><th class="l" scope="row"><span style="top:1.0px;"><i>最大输入转速</i> / Maximum input speed &nbsp;η<sub>1B</sub></span></th><td class="n"><span style="top:1.0px;">1</span></td><td class="n"><span style="top:1.0px;">1~2</span></td><td class="n"><span style="top:1.0px;">4000</span></td></tr>
<tr style="height:22px"><th class="l" scope="row"><span style="top:1.0px;"><i>输出容许径向力</i> / Allowable radial force F<sub>2aB</sub></span></th><td><span style="top:1.2px;left:-1.2px;">N</span></td><td class="n"><span style="top:1.0px;">1</span></td><td class="n"><span style="top:1.0px;">1~2</span></td><td class="n"><span style="top:1.0px;">4800</span></td></tr>
<tr style="height:22px"><th class="l" scope="row"><span style="top:1.0px;"><i>输出容许轴向力</i> / Allowable axial force F<sub>2aB</sub></span></th><td><span style="top:1.2px;left:-1.2px;">N</span></td><td class="n"><span style="top:1.0px;">1</span></td><td class="n"><span style="top:1.0px;">1~2</span></td><td class="n"><span style="top:1.0px;">2400</span></td></tr>
<tr style="height:22px"><th class="l" scope="row"><span style="top:1.0px;"><i>输入容许径向力</i> / Allowable radial force F<sub>2aB</sub></span></th><td><span style="top:1.2px;left:-1.2px;">N</span></td><td class="n"><span style="top:1.0px;">1</span></td><td class="n"><span style="top:1.0px;">1~2</span></td><td class="n"><span style="top:1.0px;">2700</span></td></tr>
<tr style="height:22px"><th class="l" scope="row"><span style="top:1.0px;"><i>输入容许轴向力</i> / Allowable axial force F<sub>2aB</sub></span></th><td><span style="top:1.2px;left:-1.2px;">N</span></td><td class="n"><span style="top:1.0px;">1</span></td><td class="n"><span style="top:1.0px;">1~2</span></td><td class="n"><span style="top:1.0px;">1350</span></td></tr>
<tr style="height:21px"><th class="l" scope="row"><span style="top:1.0px;"><i>使用寿命</i> / Lifespan</span></th><td class="u2"><span style="top:1.2px;left:-1.2px;">hr</span></td><td class="n"><span style="top:1.0px;">1</span></td><td class="n"><span style="top:1.0px;">1~2</span></td><td class="n"><span style="top:1.0px;"><b>≥</b>20000</span></td></tr>
<tr style="height:22px"><th class="l" rowspan="2" scope="row"><span style="top:1.0px;"><i>效率</i> / Efficiency</span></th><td class="u" rowspan="2"><span style="top:1.2px;left:-1.2px;">%</span></td><td class="n"><span style="top:1.0px;">1</span></td><td class="n"><span style="top:1.0px;">1~2</span></td><td class="n"><span style="top:1.0px;"><b>≥</b>97%</span></td></tr>
<tr style="height:22px"><td class="n"><span style="top:1.0px;">1</span></td><td class="n"><span style="top:1.0px;">1~2</span></td><td class="n"><span style="top:1.0px;"><b>≥</b>94%</span></td></tr>
<tr style="height:22px"><th class="l" rowspan="2" scope="row"><span style="top:1.0px;"><i>重量</i> / Weight</span></th><td class="u" rowspan="2"><span style="top:1.2px;left:-1.2px;">kg</span></td><td class="n"><span style="top:1.0px;">1</span></td><td class="n"><span style="top:1.0px;">1~2</span></td><td class="n"><span style="top:1.0px;">18</span></td></tr>
<tr style="height:22px"><td class="n"><span style="top:1.0px;">1</span></td><td class="n"><span style="top:1.0px;">1~2</span></td><td class="n"><span style="top:1.0px;">18</span></td></tr>
<tr style="height:21px"><th class="l" scope="row"><span style="top:1.0px;"><i>使用温度</i> / Working temperature</span></th><td class="u"><span style="top:1.2px;left:-1.2px;"><b>℃</b></span></td><td class="n"><span style="top:1.0px;">1</span></td><td class="n"><span style="top:1.0px;">1~2</span></td><td class="n"><span style="top:1.0px;">-15<b>℃</b>~90<b>℃</b></span></td></tr>
<tr style="height:22px"><th class="l" scope="row"><span style="top:1.0px;"><i>润滑</i> / Lubricating</span></th><td rowspan="3"></td><td class="n"><span style="top:1.0px;">1</span></td><td colspan="2"><span style="top:1.0px;"><i>合成润滑油脂</i> / Synthetic lubricating grease</span></td></tr>
<tr style="height:22px"><th class="l" scope="row"><span style="top:1.0px;"><i>防护等级</i> / IP Grade</span></th><td class="n"><span style="top:1.0px;">1</span></td><td class="n"><span style="top:1.0px;">1~2</span></td><td class="n"><span style="top:1.0px;">IP65</span></td></tr>
<tr style="height:22px"><th class="l" scope="row"><span style="top:1.0px;"><i>安装方向</i> / Installation direction</span></th><td class="n"><span style="top:1.0px;">1</span></td><td class="n"><span style="top:1.0px;">1~2</span></td><td><span style="top:1.0px;"><i>任意方向</i> / In any direction</span></td></tr>
<tr style="height:43px"><th class="l two" scope="row"><span style="top:2.4px;"><i>噪音值</i>(n1=3000rpm,<i>无负载</i>) Noise level<br>( η1=3000rpm,off load)</span></th><td class="u"><span style="top:1.2px;left:-0.5px;">dB(A)</span></td><td class="n"><span style="top:1.0px;">1</span></td><td class="n"><span style="top:1.0px;">1~2</span></td><td class="n"><span style="top:1.0px;"><b>≤</b>56</span></td></tr>
</tbody>
</table>
<div class="foot">*1.减速比i=N<sub>in</sub>/N<sub>out</sub>&nbsp;&nbsp;&nbsp;*2.输出转速为100rpm时，作用于输出轴中心位置&nbsp;&nbsp;&nbsp;&nbsp;*3.可定制高低温油脂</div>
</div></body></html>
